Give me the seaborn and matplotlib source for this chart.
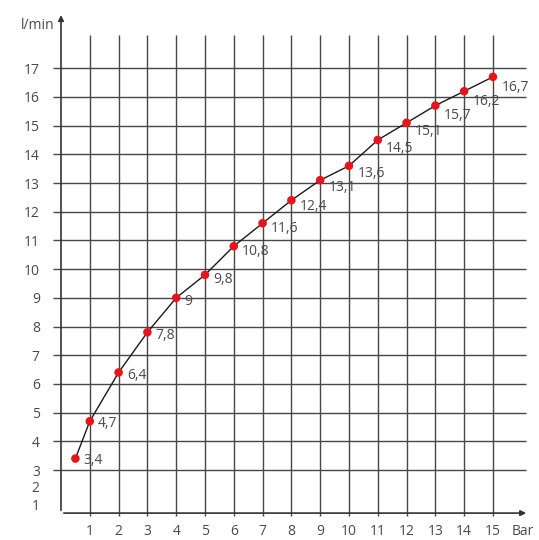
import numpy as np
import pandas as pd
import seaborn as sns
from matplotlib import pyplot as plt

# Data: pressure (Bar) vs flow (l/min)
pressure = [0.5, 1, 2, 3, 4, 5, 6, 7, 8, 9, 10, 11, 12, 13, 14, 15]
flow = [3.4, 4.7, 6.4, 7.8, 9.0, 9.8, 10.8, 11.6, 12.4, 13.1, 13.6, 14.5, 15.1, 15.7, 16.2, 16.7]
flow_labels = ['3,4', '4,7', '6,4', '7,8', '9', '9,8', '10,8', '11,6', '12,4', '13,1',
               '13,6', '14,5', '15,1', '15,7', '16,2', '16,7']
x_ticks = list(range(1, 16))
y_grid = list(range(3, 18))
y_extra_labels = ['2', '1']

df = pd.DataFrame({'Bar': pressure, 'l/min': flow})

sns.set_style('white')
plt.rcParams['font.family'] = ['Open Sans', 'DejaVu Sans']
text_col = '#4a4a4a'
grid_col = '#474747'

fig = plt.figure(figsize=(5.39, 5.40), dpi=100)
ax = fig.add_axes([0.0918, 0.0339, 0.8976, 0.946])
ax.set_xlim(-0.4, 16.4)
ax.set_ylim(1.2, 19.0)
for s in ax.spines.values():
    s.set_visible(False)

# grid
ax.hlines(y_grid, -0.28, 16.15, color=grid_col, lw=1.0, zorder=1)
ax.vlines(x_ticks, 1.4, 18.15, color=grid_col, lw=1.0, zorder=1)

# axes with arrows
ax.annotate('', xy=(0, 18.95), xytext=(0, 1.5), annotation_clip=False,
            arrowprops=dict(arrowstyle='-|>', color='#333333', lw=1.2, mutation_scale=8))
ax.annotate('', xy=(16.25, 1.5), xytext=(0, 1.5), annotation_clip=False,
            arrowprops=dict(arrowstyle='-|>', color='#333333', lw=1.2, mutation_scale=8))

# curve and points
sns.lineplot(data=df, x='Bar', y='l/min', color='#1a1a1a', lw=1.0, ax=ax, zorder=3)
sns.scatterplot(data=df, x='Bar', y='l/min', color='#e8141b', s=38, edgecolor='none', ax=ax, zorder=4)

for x, y, lab in zip(pressure, flow, flow_labels):
    dy = -1 - 0.45 * x
    ax.annotate(lab, (x, y), xytext=(6, dy), textcoords='offset points',
                ha='left', va='center', fontsize=10, color=text_col)

# ticks
ax.set_xticks(x_ticks)
ax.set_xticklabels([str(t) for t in x_ticks])
ax.set_yticks(y_grid)
ax.set_yticklabels([str(t) for t in y_grid])
ax.tick_params(axis='both', length=0, labelsize=10, labelcolor=text_col)
ax.tick_params(axis='x', pad=1.5)
ax.tick_params(axis='y', pad=7)
ax.set_xlabel('')
ax.set_ylabel('')

# compressed labels below 3
for lab, yy in zip(y_extra_labels, [2.35, 1.72]):
    ax.text(-0.75, yy, lab, ha='right', va='center', fontsize=10, color=text_col)

ax.text(-0.8, 18.5, 'l/min', ha='center', va='center', fontsize=10, color=text_col)
ax.text(15.65, 0.85, 'Bar', ha='left', va='center', fontsize=10, color=text_col, clip_on=False)

plt.savefig('out.png', dpi=100)
